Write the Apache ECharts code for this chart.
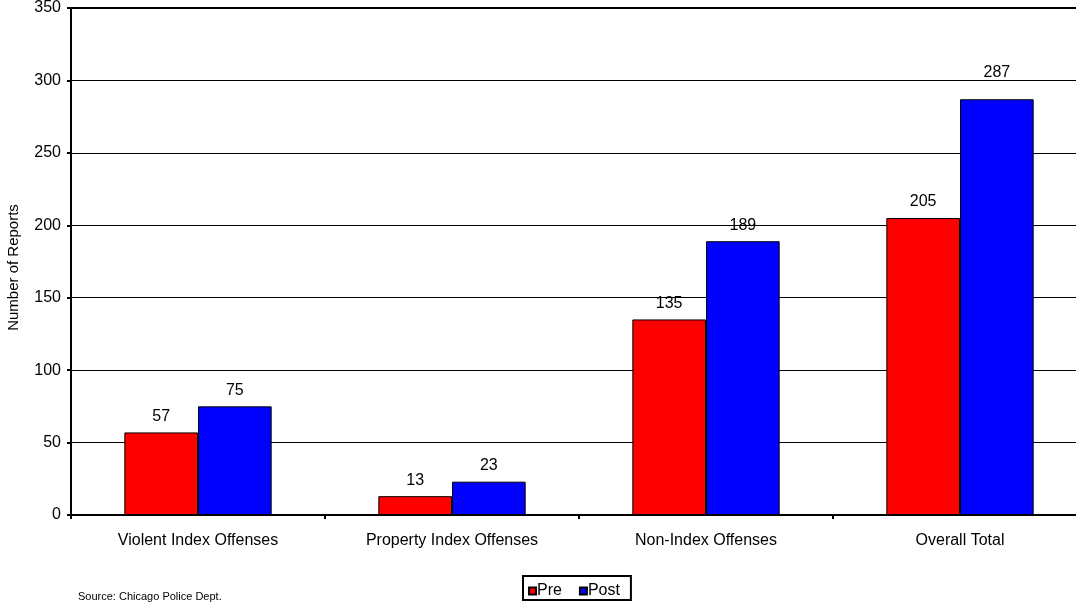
<!DOCTYPE html>
<html>
<head>
<meta charset="utf-8">
<script src="https://cdn.jsdelivr.net/npm/echarts@6/dist/echarts.min.js"></script>
<style>html,body{margin:0;padding:0;background:#fff;overflow:hidden;}#c{width:1076px;height:605px;}</style>
</head>
<body>
<div id="c"></div>
<script>
const categories = ["Violent Index Offenses", "Property Index Offenses", "Non-Index Offenses", "Overall Total"];
const preValues = [57, 13, 135, 205];
const postValues = [75, 23, 189, 287];
const yTicks = [0, 50, 100, 150, 200, 250, 300, 350];

const chart = echarts.init(document.getElementById('c'), null, {renderer: 'canvas'});
const font = 'Arial, "Liberation Sans", sans-serif';
const label = {show: true, position: 'top', distance: 8, color: '#000', fontFamily: font, fontSize: 16};
const postData = postValues.map((v, i) => i === postValues.length - 1 ? {value: v, label: {distance: 19}} : v);
chart.setOption({
  animation: false,
  backgroundColor: '#fff',
  grid: {left: 71, top: 8, width: 1016, height: 507, outerBoundsMode: 'none', containLabel: false},
  legend: {
    data: ['Pre', 'Post'],
    left: 523, top: 576,
    itemWidth: 7, itemHeight: 7, itemGap: 17,
    padding: [7, 11, 1, 5],
    borderColor: '#000', borderWidth: 2,
    textStyle: {fontFamily: font, fontSize: 16, color: '#000', padding: [5, 0, 0, -4]},
    icon: 'rect'
  },
  graphic: [{
    type: 'text', left: 78, top: 591,
    style: {text: 'Source: Chicago Police Dept.', fontFamily: font, fontSize: 11, fill: '#000'}
  }],
  xAxis: [{
    type: 'category', data: categories,
    axisLine: {lineStyle: {color: '#000', width: 2}},
    axisTick: {show: true, length: 4, lineStyle: {color: '#000', width: 2}},
    axisLabel: {color: '#000', fontFamily: font, fontSize: 16, margin: 18}
  }, {
    type: 'category', data: categories, position: 'top',
    axisLine: {lineStyle: {color: '#000', width: 2}},
    axisTick: {show: false}, axisLabel: {show: false}
  }],
  yAxis: {
    type: 'value', min: yTicks[0], max: yTicks[yTicks.length - 1], interval: 50,
    name: 'Number of Reports', nameLocation: 'middle', nameGap: 50,
    nameTextStyle: {fontFamily: font, fontSize: 15, color: '#000', padding: [0, 12, 0, 0]},
    axisLine: {show: true, lineStyle: {color: '#000', width: 2}},
    axisTick: {show: true, length: 4, lineStyle: {color: '#000', width: 2}},
    axisLabel: {color: '#000', fontFamily: font, fontSize: 16, margin: 10},
    splitLine: {show: true, lineStyle: {color: '#000', width: 1}}
  },
  series: [{
    name: 'Pre', type: 'bar', data: preValues, barWidth: '29%', barGap: '0%',
    itemStyle: {color: '#ff0000', borderColor: '#000', borderWidth: 1},
    label: label
  }, {
    name: 'Post', type: 'bar', data: postData, barWidth: '29%', barGap: '0%',
    itemStyle: {color: '#0000ff', borderColor: '#000', borderWidth: 1},
    label: label
  }]
});
</script>
</body>
</html>
